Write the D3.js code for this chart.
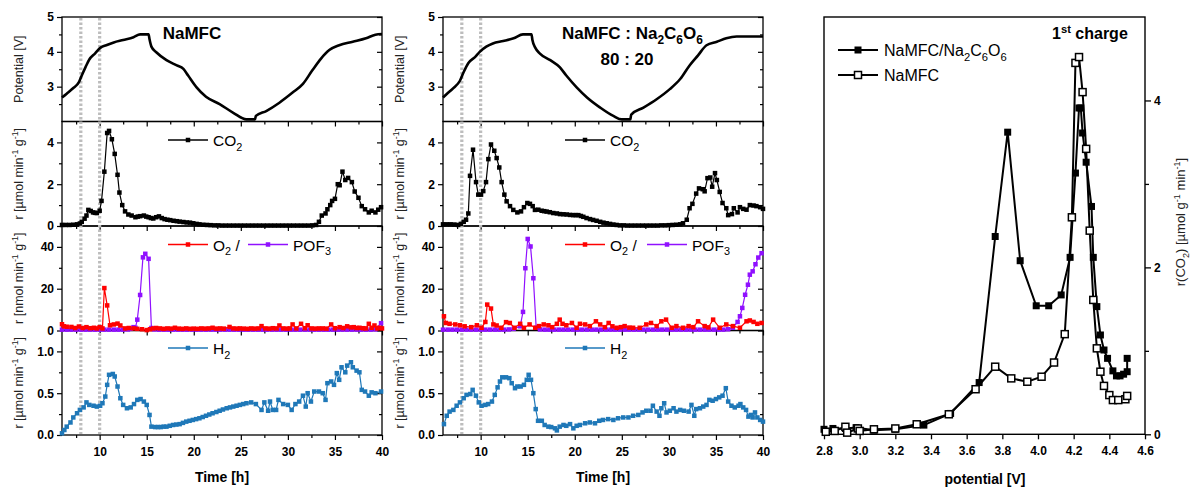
<!DOCTYPE html>
<html>
<head>
<meta charset="utf-8">
<script src="https://cdn.jsdelivr.net/npm/d3@7"></script>
<style>
  body { margin: 0; background: #fff; }
  text { font-family: "Liberation Sans", Arial, sans-serif; }
</style>
</head>
<body>
<svg id="chart" width="1190" height="488"></svg>
<script>
// ---- data ----
var timeTicks = [10, 15, 20, 25, 30, 35, 40];
var timeMinor = [7.5, 12.5, 17.5, 22.5, 27.5, 32.5, 37.5];
var markerTimes = [8, 10];

var potentialNaMFC = [[6,2.69],[6.5,2.8],[7.2,2.96],[7.8,3.13],[8.1,3.32],[8.5,3.56],[8.9,3.78],[9.5,3.95],[10.1,4.12],[10.7,4.19],[11.5,4.27],[12.5,4.34],[13.6,4.42],[14.3,4.5],[15.2,4.5],[15.3,4.36],[15.5,4.15],[16.05,3.98],[17.1,3.76],[18.2,3.61],[18.9,3.51],[19.4,3.32],[20.3,2.98],[21.3,2.71],[22.75,2.5],[24.2,2.25],[25.6,2.06],[26.5,2.06],[26.6,2.16],[27.7,2.3],[29.1,2.54],[30.5,2.83],[31.6,3.08],[32.6,3.47],[33.5,3.8],[34.4,4.05],[35.45,4.19],[36.9,4.29],[38.3,4.39],[39.3,4.49],[40,4.51]];

var co2NaMFC = [[6.0,0.05],[6.4,0.05],[6.8,0.05],[7.2,0.06],[7.6,0.08],[7.9,0.12],[8.1,0.2],[8.4,0.35],[8.6,0.5],[8.8,0.77],[9.05,0.72],[9.3,0.65],[9.5,0.63],[9.7,0.62],[10.0,0.73],[10.2,1.2],[10.5,2.6],[10.8,4.45],[11.0,4.55],[11.3,4.15],[11.6,3.45],[11.9,2.45],[12.1,1.6],[12.4,1.0],[12.7,0.7],[13.05,0.55],[13.4,0.5],[13.8,0.42],[14.05,0.45],[14.3,0.47],[14.7,0.5],[14.95,0.45],[15.2,0.42],[15.45,0.38],[15.7,0.36],[16.0,0.42],[16.3,0.46],[16.6,0.38],[16.9,0.33],[17.2,0.3],[17.5,0.28],[17.85,0.25],[18.2,0.23],[18.5,0.21],[18.9,0.19],[19.25,0.17],[19.6,0.16],[19.95,0.13],[20.3,0.1],[20.6,0.08],[21.0,0.06],[21.4,0.05],[21.8,0.04],[22.2,0.03],[22.6,0.03],[23.0,0.02],[23.4,0.02],[23.8,0.02],[24.2,0.02],[24.6,0.02],[25.0,0.02],[25.4,0.02],[25.8,0.02],[26.2,0.02],[26.6,0.02],[27.0,0.02],[27.4,0.02],[27.8,0.02],[28.2,0.02],[28.6,0.02],[29.0,0.02],[29.4,0.02],[29.8,0.02],[30.2,0.02],[30.6,0.02],[31.0,0.02],[31.4,0.02],[31.8,0.02],[32.2,0.02],[32.6,0.03],[33.0,0.05],[33.3,0.2],[33.6,0.5],[34.0,0.6],[34.2,0.8],[34.5,1.0],[34.7,1.2],[35.0,1.3],[35.3,2.0],[35.5,1.95],[35.8,2.6],[36.1,2.2],[36.4,2.3],[36.8,2.1],[37.1,1.65],[37.5,1.35],[37.85,0.95],[38.2,0.8],[38.6,0.65],[38.9,0.73],[39.3,0.65],[39.6,0.78],[39.9,0.9]];

var o2NaMFC = [[6.0,3.0],[6.2,2.0],[6.5,1.8],[7.0,1.7],[7.4,1.2],[7.8,1.9],[8.2,1.2],[8.6,1.6],[9.0,1.1],[9.4,1.3],[9.7,1.0],[10.0,1.6],[10.3,1.0],[10.5,20.3],[10.8,12.0],[11.1,2.5],[11.5,2.9],[11.9,3.3],[12.2,2.4],[12.7,1.0],[13.1,1.2],[13.6,1.0],[14.0,0.8],[14.5,0.6],[15.0,0.2],[15.35,0.6],[15.7,1.0],[16.0,1.2],[16.4,1.0],[16.8,0.8],[17.2,1.0],[17.6,0.9],[18.0,1.3],[18.4,0.9],[18.8,0.8],[19.2,1.0],[19.6,0.8],[20.0,0.9],[20.4,0.8],[20.8,1.0],[21.2,0.9],[21.6,1.0],[22.0,1.3],[22.4,0.9],[22.8,1.0],[23.2,0.9],[23.8,1.7],[24.2,1.0],[24.6,0.9],[24.9,1.0],[25.3,0.9],[25.7,0.8],[26.1,1.0],[26.5,0.9],[26.9,1.0],[27.2,2.1],[27.6,1.0],[28.0,0.9],[28.4,1.1],[28.8,1.0],[29.1,2.4],[29.5,1.0],[29.9,0.9],[30.2,1.0],[30.5,2.9],[30.9,1.0],[31.4,3.2],[31.8,1.1],[32.1,2.5],[32.5,1.0],[32.9,0.9],[33.3,1.0],[33.7,1.0],[34.1,0.9],[34.6,2.9],[35.0,1.1],[35.5,1.6],[35.9,1.2],[36.3,2.0],[36.7,1.5],[37.0,1.6],[37.3,1.2],[37.6,1.3],[38.0,1.1],[38.3,1.0],[38.6,3.2],[38.9,1.3],[39.2,2.4],[39.5,1.0],[39.7,1.3],[40.0,1.0]];

var pof3NaMFC = [[6,0.4],[6.5,0.4],[7,0.4],[7.5,0.4],[8,0.4],[8.5,0.4],[9,0.4],[9.5,0.4],[10,0.4],[10.5,0.4],[11,0.4],[11.5,0.4],[12,0.4],[12.5,0.4],[13,0.5],[13.3,0.8],[13.6,1.6],[13.8,1.3],[14.0,5.2],[14.3,17],[14.6,35],[14.85,36.7],[15.2,34.3],[15.5,1.2],[15.8,0.5],[16.3,0.4],[16.8,0.4],[17.3,0.4],[17.8,0.4],[18.3,0.4],[18.8,0.4],[19.3,0.4],[19.8,0.4],[20.3,0.4],[20.8,0.4],[21.3,0.4],[21.8,0.4],[22.3,0.4],[22.8,0.4],[23.3,0.4],[23.8,0.4],[24.3,0.4],[24.8,0.4],[25.3,0.4],[25.8,0.4],[26.3,0.4],[26.8,0.4],[27.3,0.4],[27.8,0.4],[28.3,0.4],[28.8,0.4],[29.3,0.4],[29.8,0.4],[30.3,0.4],[30.8,0.4],[31.3,0.4],[31.8,0.4],[32.3,0.4],[32.8,0.4],[33.3,0.4],[33.8,0.4],[34.3,0.4],[34.8,0.4],[35.3,0.4],[35.8,0.4],[36.3,0.4],[36.8,0.4],[37.3,0.4],[37.8,0.4],[38.3,0.4],[38.8,0.4],[39.3,0.5],[39.9,3.5]];

var h2NaMFC = [[6.0,0.02],[6.25,0.06],[6.5,0.1],[6.9,0.15],[7.2,0.21],[7.6,0.26],[7.9,0.3],[8.3,0.33],[8.6,0.39],[8.9,0.36],[9.35,0.35],[9.7,0.34],[10.05,0.35],[10.3,0.38],[10.6,0.46],[10.8,0.6],[11.0,0.72],[11.4,0.73],[11.6,0.7],[11.9,0.58],[12.2,0.44],[12.5,0.36],[12.9,0.32],[13.3,0.33],[13.65,0.37],[14.0,0.42],[14.35,0.43],[14.7,0.4],[15.0,0.36],[15.3,0.24],[15.5,0.1],[15.9,0.095],[16.2,0.095],[16.5,0.095],[16.8,0.1],[17.1,0.1],[17.45,0.11],[17.8,0.12],[18.15,0.125],[18.5,0.13],[18.85,0.145],[19.2,0.16],[19.55,0.17],[19.9,0.18],[20.25,0.19],[20.6,0.2],[20.95,0.215],[21.3,0.23],[21.65,0.245],[22.0,0.26],[22.4,0.275],[22.75,0.29],[23.1,0.305],[23.5,0.32],[23.85,0.33],[24.2,0.34],[24.55,0.35],[24.9,0.36],[25.25,0.37],[25.6,0.38],[26.1,0.39],[26.6,0.37],[27.2,0.3],[27.5,0.39],[27.9,0.29],[28.1,0.4],[28.4,0.3],[28.75,0.3],[29.0,0.42],[29.5,0.37],[30.0,0.36],[30.4,0.3],[30.8,0.37],[31.2,0.4],[31.6,0.47],[31.9,0.34],[32.1,0.5],[32.45,0.4],[32.8,0.52],[33.3,0.52],[33.7,0.5],[34.0,0.42],[34.2,0.62],[34.6,0.64],[34.9,0.6],[35.2,0.74],[35.45,0.66],[35.7,0.81],[36.1,0.75],[36.3,0.83],[36.7,0.87],[36.9,0.81],[37.3,0.77],[37.6,0.75],[37.85,0.54],[38.2,0.52],[38.6,0.47],[38.9,0.51],[39.3,0.5],[39.9,0.52]];

var potentialMix = [[6,2.69],[6.4,2.79],[7.1,2.96],[7.8,3.17],[8.2,3.42],[8.7,3.68],[9.4,3.85],[9.9,4.0],[10.6,4.15],[11.3,4.24],[12.4,4.31],[13.5,4.39],[14.5,4.5],[15.4,4.5],[15.5,4.34],[15.8,4.12],[16.3,3.95],[17.4,3.76],[18.4,3.56],[19.1,3.32],[20.2,2.98],[21.3,2.69],[22.7,2.4],[24.1,2.16],[25,2.06],[25.9,2.06],[26.0,2.2],[27.3,2.4],[28.7,2.64],[30.1,2.93],[31.2,3.22],[32.2,3.61],[33.1,3.9],[34.0,4.19],[35.1,4.29],[36.1,4.39],[37.2,4.44],[38.6,4.44],[40,4.44]];

var co2Mix = [[6.0,0.08],[6.4,0.08],[6.8,0.08],[7.2,0.07],[7.6,0.05],[7.9,0.1],[8.2,0.2],[8.45,0.3],[8.69,0.6],[8.87,2.4],[9.19,3.65],[9.51,2.1],[9.75,1.5],[10.04,1.5],[10.28,1.67],[10.57,2.1],[10.82,3.2],[11.1,3.9],[11.45,3.6],[11.7,3.25],[11.98,2.8],[12.23,2.1],[12.52,1.5],[12.76,1.18],[13.12,0.95],[13.47,0.77],[13.9,0.65],[14.29,0.7],[14.6,0.9],[14.96,1.1],[15.24,1.06],[15.53,0.95],[15.77,0.77],[16.13,0.78],[16.48,0.73],[16.75,0.71],[17.01,0.69],[17.35,0.66],[17.72,0.62],[18.1,0.6],[18.43,0.57],[18.8,0.56],[19.14,0.55],[19.5,0.53],[19.85,0.52],[20.1,0.52],[20.38,0.52],[20.65,0.48],[20.91,0.44],[21.25,0.38],[21.62,0.33],[21.95,0.29],[22.32,0.25],[22.7,0.2],[23.05,0.16],[23.39,0.13],[23.75,0.1],[24.1,0.07],[24.45,0.05],[24.8,0.03],[25.2,0.03],[25.6,0.02],[26.0,0.02],[26.4,0.02],[26.8,0.02],[27.2,0.02],[27.6,0.02],[28.0,0.02],[28.4,0.02],[28.8,0.02],[29.2,0.03],[29.6,0.03],[30.0,0.04],[30.4,0.05],[30.8,0.06],[31.2,0.08],[31.5,0.13],[31.9,0.3],[32.2,0.85],[32.5,1.06],[32.9,1.55],[33.2,1.8],[33.6,1.76],[33.8,1.66],[34.1,2.29],[34.4,2.32],[34.6,1.88],[34.9,2.53],[35.1,2.2],[35.4,1.63],[35.7,1.1],[36.1,0.85],[36.3,0.52],[36.7,0.57],[36.9,0.85],[37.3,0.65],[37.55,0.9],[37.9,0.82],[38.25,0.78],[38.6,1.0],[39.0,0.98],[39.3,0.95],[39.7,0.9],[40.0,0.82]];

var o2Mix = [[6.1,6.8],[6.3,3.6],[6.7,3.2],[7.3,2.9],[7.8,2.5],[8.3,2.0],[9.0,1.6],[9.6,2.5],[10.1,1.3],[10.5,4.1],[10.7,12.4],[11.1,10.5],[11.35,2.9],[11.7,2.4],[12.2,1.3],[12.7,4.0],[13.1,3.6],[13.6,1.3],[14.2,3.2],[14.6,1.3],[15.2,2.9],[15.8,1.3],[16.2,2.1],[16.7,2.9],[17.2,2.5],[17.6,1.6],[18.1,3.2],[18.4,5.2],[18.7,3.2],[19.1,2.5],[19.7,3.6],[20.2,1.3],[20.55,3.2],[21.1,2.9],[21.6,2.1],[22.25,4.4],[22.7,2.9],[23.2,1.6],[23.6,3.6],[24.0,2.0],[24.45,1.3],[24.9,1.6],[25.3,2.1],[25.8,1.4],[26.2,1.3],[26.9,1.3],[27.6,2.9],[28.1,3.6],[28.7,2.1],[29.2,4.4],[29.7,5.2],[30.3,1.3],[30.8,2.1],[31.5,1.3],[32.1,2.1],[32.6,1.6],[33.1,4.4],[33.8,2.1],[34.2,1.5],[34.7,5.2],[35.4,1.3],[36.1,2.9],[36.8,2.1],[37.55,1.3],[38.25,4.4],[38.6,4.8],[39.0,4.1],[39.4,3.2],[39.85,3.6]];

var pof3Mix = [[6,0.4],[6.5,0.4],[7,0.4],[7.5,0.4],[8,0.4],[8.5,0.4],[9,0.4],[9.5,0.4],[10,0.4],[10.5,0.4],[11,0.4],[11.5,0.4],[12,0.4],[12.5,0.4],[13,0.5],[13.5,0.8],[14.2,2.0],[14.5,8.9],[14.75,29.8],[15.0,43.8],[15.3,40.2],[15.6,25],[15.9,1.3],[16.3,0.5],[16.8,0.4],[17.3,0.4],[17.8,0.4],[18.3,0.4],[18.8,0.4],[19.3,0.4],[19.8,0.4],[20.3,0.4],[20.8,0.4],[21.3,0.4],[21.8,0.4],[22.3,0.4],[22.8,0.4],[23.3,0.4],[23.8,0.4],[24.3,0.4],[24.8,0.4],[25.3,0.4],[25.8,0.4],[26.3,0.4],[26.8,0.4],[27.3,0.4],[27.8,0.4],[28.3,0.4],[28.8,0.4],[29.3,0.4],[29.8,0.4],[30.3,0.4],[30.8,0.4],[31.3,0.4],[31.8,0.4],[32.3,0.4],[32.8,0.4],[33.3,0.4],[33.8,0.4],[34.3,0.4],[34.8,0.4],[35.3,0.4],[35.8,0.4],[36.3,0.6],[36.8,1.3],[37.3,4.1],[37.55,6.8],[37.8,10.8],[38.1,17.1],[38.4,21.9],[38.6,26.7],[38.9,28.3],[39.2,31.7],[39.5,34.9],[39.85,37]];

var h2Mix = [[6.1,0.13],[6.4,0.23],[6.7,0.28],[7.1,0.3],[7.45,0.35],[7.8,0.39],[8.2,0.44],[8.5,0.48],[8.9,0.49],[9.15,0.54],[9.5,0.47],[9.8,0.39],[10.1,0.35],[10.5,0.36],[10.8,0.37],[11.2,0.4],[11.5,0.48],[11.8,0.57],[12.05,0.64],[12.3,0.69],[12.7,0.69],[13.05,0.68],[13.3,0.62],[13.65,0.56],[13.9,0.58],[14.25,0.58],[14.6,0.6],[14.9,0.66],[15.1,0.72],[15.35,0.66],[15.6,0.5],[15.85,0.31],[16.1,0.17],[16.5,0.17],[16.8,0.12],[17.2,0.1],[17.5,0.095],[17.9,0.08],[18.1,0.055],[18.4,0.1],[18.8,0.12],[19.1,0.11],[19.5,0.13],[19.85,0.08],[20.2,0.11],[20.55,0.12],[21.1,0.14],[21.6,0.15],[22.15,0.14],[22.6,0.17],[23.0,0.18],[23.55,0.19],[24.1,0.18],[24.6,0.2],[25.15,0.21],[25.7,0.21],[26.2,0.23],[26.75,0.24],[27.2,0.27],[27.6,0.29],[28.05,0.29],[28.3,0.35],[28.7,0.28],[29.0,0.23],[29.2,0.32],[29.5,0.38],[29.75,0.27],[30.1,0.29],[30.5,0.32],[30.8,0.28],[31.2,0.3],[31.6,0.29],[32.1,0.28],[32.4,0.36],[32.7,0.23],[32.9,0.31],[33.3,0.32],[33.65,0.34],[34.0,0.36],[34.3,0.42],[34.65,0.41],[35.0,0.43],[35.35,0.45],[35.7,0.47],[36.05,0.56],[36.3,0.4],[36.65,0.35],[37.0,0.33],[37.4,0.35],[37.6,0.37],[37.9,0.33],[38.2,0.3],[38.45,0.22],[38.7,0.24],[38.9,0.21],[39.15,0.27],[39.4,0.21],[39.7,0.18],[40.0,0.16]];

var chargeTicks = [2.8, 3.0, 3.2, 3.4, 3.6, 3.8, 4.0, 4.2, 4.4, 4.6];
var chargeMix = [[2.80,0.06],[2.85,0.07],[2.92,0.07],[2.98,0.08],[3.08,0.05],[3.20,0.06],[3.36,0.11],[3.51,0.25],[3.67,0.62],[3.76,2.37],[3.83,3.62],[3.90,2.08],[3.99,1.54],[4.06,1.54],[4.13,1.67],[4.18,2.12],[4.21,3.13],[4.23,3.91],[4.24,3.91],[4.25,3.61],[4.27,3.26],[4.30,2.73],[4.31,2.12],[4.33,1.53],[4.35,1.19],[4.37,1.01],[4.39,0.91],[4.42,0.76],[4.44,0.70],[4.46,0.70],[4.48,0.72],[4.50,0.75],[4.50,0.91]];
var chargeNaMFC = [[2.81,0.03],[2.86,0.04],[2.92,0.09],[2.93,0.02],[2.99,0.07],[3.00,0.04],[3.08,0.06],[3.20,0.07],[3.32,0.12],[3.50,0.24],[3.65,0.54],[3.76,0.81],[3.85,0.67],[3.94,0.63],[4.02,0.69],[4.09,0.86],[4.15,1.2],[4.19,2.6],[4.21,4.45],[4.23,4.52],[4.25,4.1],[4.27,3.42],[4.29,2.44],[4.31,1.61],[4.33,1.03],[4.35,0.75],[4.37,0.58],[4.40,0.47],[4.42,0.41],[4.45,0.41],[4.49,0.42],[4.50,0.46]];

// ---- layout ----
var svg = d3.select("#chart");
var panelTop = 17, panelHeight = 104.5;
var red = "#ff0000", purple = "#9010ff", blue = "#1f78b8";

// writes text with sub/superscript parts
function addRich(sel, parts, size) {
  var shift = 0;
  parts.forEach(function(p) {
    var target = p[1] === "sub" ? size * 0.3 : p[1] === "sup" ? -size * 0.4 : 0;
    sel.append("tspan")
        .attr("dy", target - shift)
        .attr("font-size", p[1] ? size * 0.7 : size)
        .text(p[0]);
    shift = target;
  });
  return sel;
}

var panels = [
  { domain: [2, 5], ticks: [3, 4, 5], minor: [2.5, 3.5, 4.5], fmt: d3.format("d"),
    label: [["Potential [V]"]] },
  { domain: [0, 5], ticks: [0, 2, 4], minor: [1, 3], fmt: d3.format("d"),
    label: [["r [µmol min"], ["-1", "sup"], [" g"], ["-1", "sup"], ["]"]] },
  { domain: [0, 50], ticks: [0, 20, 40], minor: [10, 30], fmt: d3.format("d"),
    label: [["r [nmol min"], ["-1", "sup"], [" g"], ["-1", "sup"], ["]"]] },
  { domain: [0, 1.25], ticks: [0, 0.5, 1.0], minor: [0.25, 0.75], fmt: d3.format(".1f"),
    label: [["r [µmol min"], ["-1", "sup"], [" g"], ["-1", "sup"], ["]"]] }
];

var columns = [
  { x0: 62, x1: 382, labelX: 23, legendX: 168, pofOffset: 80,
    potential: potentialNaMFC, co2: co2NaMFC, o2: o2NaMFC, pof3: pof3NaMFC, h2: h2NaMFC },
  { x0: 443, x1: 763, labelX: 404, legendX: 565, pofOffset: 82,
    potential: potentialMix, co2: co2Mix, o2: o2Mix, pof3: pof3Mix, h2: h2Mix }
];

function drawSeries(g, x, y, data, color, size) {
  var line = d3.line().x(function(d) { return x(d[0]); }).y(function(d) { return y(d[1]); });
  g.append("path").datum(data)
      .attr("d", line).attr("fill", "none")
      .attr("stroke", color).attr("stroke-width", 1.2);
  g.selectAll(null).data(data).enter().append("rect")
      .attr("x", function(d) { return x(d[0]) - size / 2; })
      .attr("y", function(d) { return y(d[1]) - size / 2; })
      .attr("width", size).attr("height", size)
      .attr("fill", color);
}

function legendEntry(g, lx, ly, color, parts) {
  g.append("line").attr("x1", lx).attr("x2", lx + 40).attr("y1", ly).attr("y2", ly)
      .attr("stroke", color).attr("stroke-width", 1.5);
  g.append("rect").attr("x", lx + 17.75).attr("y", ly - 2.25).attr("width", 4.5).attr("height", 4.5)
      .attr("fill", color);
  addRich(g.append("text").attr("x", lx + 45).attr("y", ly + 6), parts, 15.5);
}

columns.forEach(function(col) {
  var x = d3.scaleLinear().domain([6, 40]).range([col.x0, col.x1]);
  var g = svg.append("g");

  panels.forEach(function(p, i) {
    var top = panelTop + i * panelHeight, bottom = top + panelHeight;
    var y = d3.scaleLinear().domain(p.domain).range([bottom, top]);
    p.y = y;

    var left = g.append("g").attr("transform", "translate(" + col.x0 + ",0)")
        .call(d3.axisLeft(y).tickValues(p.ticks).tickFormat(p.fmt).tickSize(5).tickSizeOuter(0));
    left.append("g").call(d3.axisLeft(y).tickValues(p.minor).tickFormat("").tickSize(3));
    var right = g.append("g").attr("transform", "translate(" + col.x1 + ",0)")
        .call(d3.axisRight(y).tickValues(p.ticks).tickFormat("").tickSize(-5));
    right.append("g").call(d3.axisRight(y).tickValues(p.minor).tickFormat("").tickSize(-3));
    var bot = g.append("g").attr("transform", "translate(0," + bottom + ")")
        .call(d3.axisBottom(x).tickValues(timeTicks).tickSize(5).tickFormat(i === 3 ? d3.format("d") : ""));
    bot.append("g").call(d3.axisBottom(x).tickValues(timeMinor).tickFormat("").tickSize(3));

    [left, right, bot].forEach(function(a) {
      a.selectAll(".domain").remove();
      a.selectAll("line").attr("stroke", "#000").attr("stroke-width", 1.2);
      a.selectAll("text").attr("font-size", 12).attr("font-weight", "bold")
          .attr("font-family", "Liberation Sans, Arial, sans-serif").attr("fill", "#000");
    });
    bot.selectAll("text").attr("dy", "1.05em");

    g.append("rect").attr("x", col.x0).attr("y", top)
        .attr("width", col.x1 - col.x0).attr("height", panelHeight)
        .attr("fill", "none").attr("stroke", "#000").attr("stroke-width", 1.3);

    addRich(g.append("text")
        .attr("transform", "translate(" + col.labelX + "," + (top + panelHeight / 2) + ") rotate(-90)")
        .attr("text-anchor", "middle").attr("fill", "#222"), p.label, 12.5);
  });

  // dotted markers at 8 h and 10 h
  g.selectAll(null).data(markerTimes).enter().append("line")
      .attr("x1", function(d) { return x(d); }).attr("x2", function(d) { return x(d); })
      .attr("y1", panelTop + 1).attr("y2", panelTop + 4 * panelHeight - 1)
      .attr("stroke", "#bdbdbd").attr("stroke-width", 3.2).attr("stroke-dasharray", "2.5,2");

  // potential curve
  var py = panels[0].y;
  g.append("path").datum(col.potential)
      .attr("d", d3.line().curve(d3.curveMonotoneX)
          .x(function(d) { return x(d[0]); }).y(function(d) { return py(d[1]); }))
      .attr("fill", "none").attr("stroke", "#000").attr("stroke-width", 2.6);

  drawSeries(g, x, panels[1].y, col.co2, "#000", 4.5);
  drawSeries(g, x, panels[2].y, col.pof3, purple, 4.5);
  drawSeries(g, x, panels[2].y, col.o2, red, 4.5);
  drawSeries(g, x, panels[3].y, col.h2, blue, 4.5);

  legendEntry(g, col.legendX, panelTop + panelHeight + 18.5, "#000", [["CO"], ["2", "sub"]]);
  legendEntry(g, col.legendX, panelTop + 2 * panelHeight + 18.5, red, [["O"], ["2", "sub"], [" /"]]);
  legendEntry(g, col.legendX + col.pofOffset, panelTop + 2 * panelHeight + 18.5, purple, [["POF"], ["3", "sub"]]);
  legendEntry(g, col.legendX, panelTop + 3 * panelHeight + 17.5, blue, [["H"], ["2", "sub"]]);

  g.append("text").attr("x", (col.x0 + col.x1) / 2).attr("y", 481.5)
      .attr("text-anchor", "middle").attr("font-size", 14).attr("font-weight", "bold")
      .text("Time [h]");
});

// titles
svg.append("text").attr("x", 192).attr("y", 39).attr("text-anchor", "middle")
    .attr("font-size", 17).attr("font-weight", "bold").text("NaMFC");
addRich(svg.append("text").attr("x", 562).attr("y", 39)
    .attr("font-size", 17).attr("font-weight", "bold"),
    [["NaMFC : Na"], ["2", "sub"], ["C"], ["6", "sub"], ["O"], ["6", "sub"]], 17);
svg.append("text").attr("x", 627).attr("y", 65).attr("text-anchor", "middle")
    .attr("font-size", 17).attr("font-weight", "bold").text("80 : 20");

// ---- first charge panel ----
var cx = d3.scaleLinear().domain([2.8, 4.6]).range([824, 1145]);
var cy = d3.scaleLinear().domain([0, 5]).range([434.3, 17]);
var cg = svg.append("g");

var cxAxis = cg.append("g").attr("transform", "translate(0,434.3)")
    .call(d3.axisBottom(cx).tickValues(chargeTicks).tickFormat(d3.format(".1f")).tickSize(5).tickSizeOuter(0));
var cyAxis = cg.append("g").attr("transform", "translate(1145,0)")
    .call(d3.axisRight(cy).tickValues([0, 2, 4]).tickFormat(d3.format("d")).tickSize(6).tickSizeOuter(0));
cyAxis.append("g").call(d3.axisRight(cy).tickValues([1, 3]).tickFormat("").tickSize(4));
[cxAxis, cyAxis].forEach(function(a) {
  a.selectAll(".domain").remove();
  a.selectAll("line").attr("stroke", "#000").attr("stroke-width", 1.3);
  a.selectAll("text").attr("font-size", 12).attr("font-weight", "bold")
      .attr("font-family", "Liberation Sans, Arial, sans-serif").attr("fill", "#000");
});
cxAxis.selectAll("text").attr("dy", "1.05em");

cg.append("rect").attr("x", 824).attr("y", 17).attr("width", 321).attr("height", 417.3)
    .attr("fill", "none").attr("stroke", "#000").attr("stroke-width", 1.4);

var chargeLine = d3.line().x(function(d) { return cx(d[0]); }).y(function(d) { return cy(d[1]); });
function drawCharge(data, filled) {
  cg.append("path").datum(data).attr("d", chargeLine)
      .attr("fill", "none").attr("stroke", "#000").attr("stroke-width", 2);
  cg.selectAll(null).data(data).enter().append("rect")
      .attr("x", function(d) { return cx(d[0]) - 3.5; })
      .attr("y", function(d) { return cy(d[1]) - 3.5; })
      .attr("width", 7).attr("height", 7)
      .attr("fill", filled ? "#000" : "#fff")
      .attr("stroke", "#000").attr("stroke-width", filled ? 0 : 1.5);
}
drawCharge(chargeMix, true);
drawCharge(chargeNaMFC, false);

// legend
[[50, true, [["NaMFC/Na"], ["2", "sub"], ["C"], ["6", "sub"], ["O"], ["6", "sub"]]],
 [75, false, [["NaMFC"]]]].forEach(function(row) {
  cg.append("line").attr("x1", 838).attr("x2", 878).attr("y1", row[0]).attr("y2", row[0])
      .attr("stroke", "#000").attr("stroke-width", 2);
  cg.append("rect").attr("x", 854.5).attr("y", row[0] - 3.5).attr("width", 7).attr("height", 7)
      .attr("fill", row[1] ? "#000" : "#fff").attr("stroke", "#000").attr("stroke-width", row[1] ? 0 : 1.5);
  addRich(cg.append("text").attr("x", 884).attr("y", row[0] + 6), row[2], 16);
});

addRich(cg.append("text").attr("x", 1052).attr("y", 39).attr("font-weight", "bold"),
    [["1"], ["st", "sup"], [" charge"]], 16);

cg.append("text").attr("x", 985).attr("y", 484).attr("text-anchor", "middle")
    .attr("font-size", 14).attr("font-weight", "bold").text("potential [V]");

addRich(cg.append("text")
    .attr("transform", "translate(1185,222) rotate(-90)")
    .attr("text-anchor", "middle").attr("fill", "#222"),
    [["r(CO"], ["2", "sub"], [") [µmol g"], ["-1", "sup"], [" min"], ["-1", "sup"], ["]"]], 13);
</script>
</body>
</html>
